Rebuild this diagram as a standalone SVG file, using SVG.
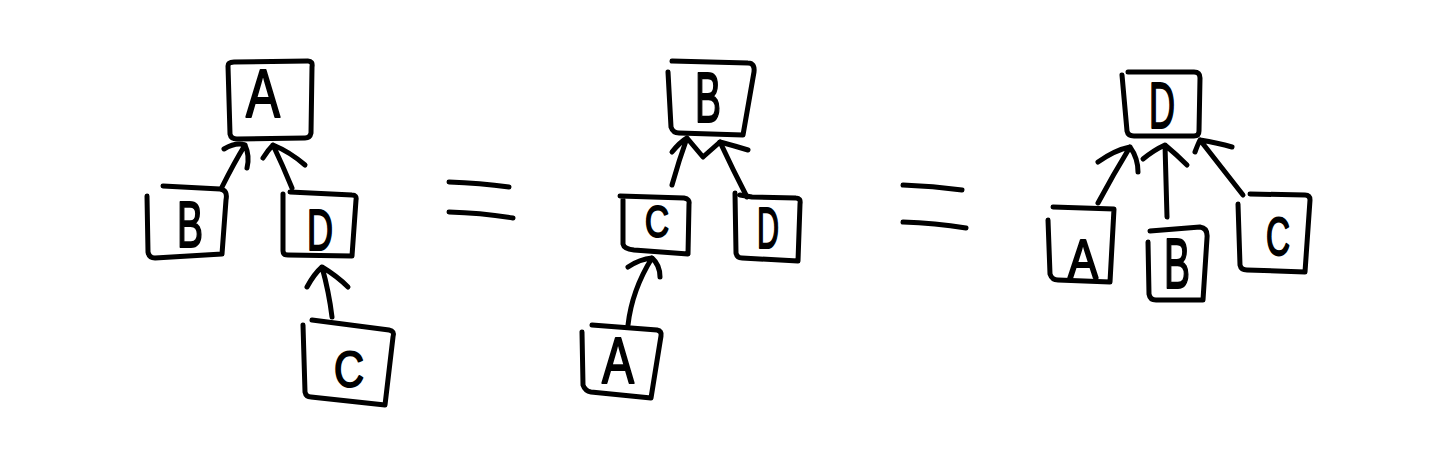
<svg xmlns="http://www.w3.org/2000/svg" width="1440" height="464" viewBox="0 0 1440 464">
<style>
.bx{fill:none;stroke:#000;stroke-width:5;stroke-linecap:round;stroke-linejoin:round}
.ln{fill:none;stroke:#000;stroke-width:5;stroke-linecap:round;stroke-linejoin:round}
.t{font-family:"Liberation Sans",Arial,sans-serif;fill:#000;stroke:#000;stroke-width:2;stroke-linejoin:round;text-anchor:middle}
</style>
<rect width="1440" height="464" fill="#fff"/>
<g id="connectors">
<path class="ln" d="M222,187 Q234,163 245,145 M224,149 Q236,142 245,145 Q250,156 247,168"/>
<path class="ln" d="M292,188 Q283,166 273,145 M263,158 Q268,150 273,145 Q290,152 305,165"/>
<path class="ln" d="M332,317 Q329,292 322,267 M307,287 Q314,274 322,267 Q337,276 348,287"/>
<path class="ln" d="M449,182 Q480,183 509,187 M449,212 Q482,213 513,218"/>
<path class="ln" d="M903,185 Q933,186 962,190 M903,222 Q935,223 966,228"/>
<path class="ln" d="M672,185 Q679,160 687,138 M672,152 Q680,142 687,138 L703,157 L720,142 Q735,146 748,150"/>
<path class="ln" d="M747,197 Q733,170 720,142"/>
<path class="ln" d="M628,325 Q632,290 652,258 M628,267 Q640,259 652,258 Q660,265 660,277"/>
<path class="ln" d="M1098,203 Q1113,175 1130,147 M1098,162 Q1115,150 1130,147 Q1138,158 1138,172"/>
<path class="ln" d="M1167,217 Q1166,180 1165,145 M1143,159 Q1154,150 1165,145 Q1177,155 1187,165"/>
<path class="ln" d="M1243,195 Q1222,168 1200,140 M1195,152 Q1198,144 1200,140 Q1218,143 1232,147"/>
</g>
<g id="d1-A"><path class="bx" d="M228,66 Q228,62 234,62 L308,61 Q313,61 312,67 L311,133 Q310,138 305,138 L237,139 Q231,139 230,134 Z"/><text class="t" style="font-size:68px" x="263" y="117" textLength="34" lengthAdjust="spacingAndGlyphs">A</text></g>
<g id="d1-B"><path class="bx" d="M147,196 L148,252 Q149,258 155,258 L222,254 L226,200 Q228,190 220,189 L163,186"/><text class="t" style="font-size:64px" x="190" y="247" textLength="26" lengthAdjust="spacingAndGlyphs">B</text></g>
<g id="d1-D"><path class="bx" d="M283,194 L283,251 Q283,255 288,255 L352,256 L356,200 Q357,195 352,195 L290,192"/><text class="t" style="font-size:58px" x="320" y="250" textLength="26" lengthAdjust="spacingAndGlyphs">D</text></g>
<g id="d1-C"><path class="bx" d="M303,325 L305,392 Q306,397 311,397 L385,405 L393,337 Q395,331 389,330 L312,320"/><text class="t" style="font-size:50px" x="349" y="387" textLength="30" lengthAdjust="spacingAndGlyphs">C</text></g>
<g id="d2-B"><path class="bx" d="M668,72 L671,127 Q673,133 679,133 L743,135 L754,72 Q755,63 748,63 L672,61"/><text class="t" style="font-size:70px" x="708" y="122" textLength="26" lengthAdjust="spacingAndGlyphs">B</text></g>
<g id="d2-C"><path class="bx" d="M620,196 L684,198 Q690,199 689,204 L688,254 L634,250 Q624,249 623,244 L623,200"/><text class="t" style="font-size:44px" x="657" y="237" textLength="24" lengthAdjust="spacingAndGlyphs">C</text></g>
<g id="d2-D"><path class="bx" d="M735,193 L736,253 Q737,258 742,258 L798,261 L800,204 Q801,198 796,198 L752,197 L740,195"/><text class="t" style="font-size:58px" x="768" y="248" textLength="22" lengthAdjust="spacingAndGlyphs">D</text></g>
<g id="d2-A"><path class="bx" d="M582,332 L583,385 Q585,391 591,392 L651,398 L661,336 Q662,331 657,330 L592,325"/><text class="t" style="font-size:64px" x="618" y="383" textLength="32" lengthAdjust="spacingAndGlyphs">A</text></g>
<g id="d3-D"><path class="bx" d="M1122,75 L1127,131 Q1128,136 1134,136 L1194,136 Q1199,136 1199,131 L1200,78 Q1200,72 1194,72 L1128,72"/><text class="t" style="font-size:64px" x="1162" y="128" textLength="26" lengthAdjust="spacingAndGlyphs">D</text></g>
<g id="d3-A"><path class="bx" d="M1048,220 L1050,274 Q1052,280 1058,280 L1110,282 L1114,209 L1053,207"/><text class="t" style="font-size:56px" x="1083" y="278" textLength="30" lengthAdjust="spacingAndGlyphs">A</text></g>
<g id="d3-B"><path class="bx" d="M1148,242 L1149,294 Q1150,300 1156,300 L1203,300 L1207,238 Q1208,228 1200,227 L1150,231"/><text class="t" style="font-size:70px" x="1177" y="288" textLength="26" lengthAdjust="spacingAndGlyphs">B</text></g>
<g id="d3-C"><path class="bx" d="M1238,204 L1240,265 Q1241,270 1247,270 L1305,272 L1310,200 Q1310,195 1305,195 L1250,194"/><text class="t" style="font-size:54px" x="1278" y="255" textLength="24" lengthAdjust="spacingAndGlyphs">C</text></g>
</svg>
